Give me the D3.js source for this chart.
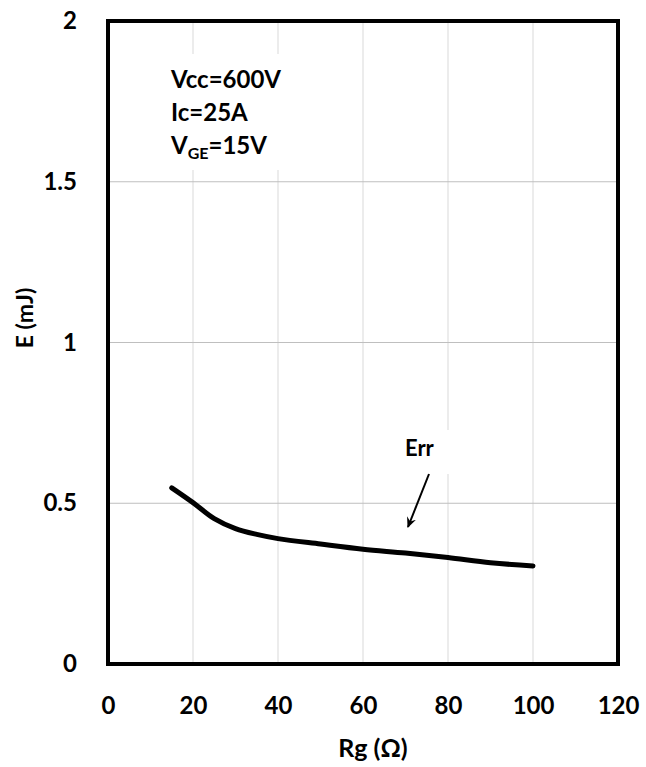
<!DOCTYPE html>
<html>
<head>
<meta charset="utf-8">
<script src="https://cdn.jsdelivr.net/npm/d3@7"></script>
<style>
  body { margin: 0; background: #fff; }
  text { font-family: Lato, "Open Sans", sans-serif; font-weight: bold; fill: #000; }
</style>
</head>
<body>
<svg id="chart" width="646" height="767" viewBox="0 0 646 767"></svg>
<script>
// Err curve
const rg = [15, 20, 25, 30, 35, 40, 50, 60, 70, 80, 90, 100];
const err = [0.548, 0.502, 0.452, 0.421, 0.403, 0.390, 0.373, 0.357, 0.345, 0.331, 0.315, 0.305];
const xTicks = [0, 20, 40, 60, 80, 100, 120];
const yTicks = [0, 0.5, 1, 1.5, 2];
const notes = ["Vcc=600V", "Ic=25A"];

const svg = d3.select("#chart");
const width = 646, height = 767;
const margin = {left: 108, right: 28, top: 21, bottom: 103};

const x = d3.scaleLinear().domain([0, 120]).range([margin.left, width - margin.right]);
const y = d3.scaleLinear().domain([0, 2]).range([height - margin.bottom, margin.top]);

// grid
const grid = svg.append("g");
grid.selectAll(".gx")
    .data(xTicks.slice(1, -1))
    .enter()
    .append("line")
    .attr("x1", d => x(d)).attr("x2", d => x(d))
    .attr("y1", y(0)).attr("y2", y(2))
    .style("stroke", "#d9d9d9")
    .style("stroke-width", 1);
grid.selectAll(".gy")
    .data(yTicks.slice(1, -1))
    .enter()
    .append("line")
    .attr("x1", x(0)).attr("x2", x(120))
    .attr("y1", d => y(d)).attr("y2", d => y(d))
    .style("stroke", "#bfbfbf")
    .style("stroke-width", 1);

// text boxes cover the grid
svg.append("rect")
    .attr("x", 166).attr("y", 54).attr("width", 122).attr("height", 116)
    .attr("fill", "#fff");
svg.append("rect")
    .attr("x", 398).attr("y", 430).attr("width", 56).attr("height", 44)
    .attr("fill", "#fff");

// axes
const xAxis = svg.append("g")
    .attr("transform", `translate(0,${y(0)})`)
    .call(d3.axisBottom(x).tickValues(xTicks).tickSize(0).tickPadding(33));
xAxis.select(".domain").remove();
xAxis.selectAll("text").style("font-size", "24px").attr("font-family", null);

const yAxis = svg.append("g")
    .attr("transform", `translate(${x(0)},0)`)
    .call(d3.axisLeft(y).tickValues(yTicks).tickFormat(d3.format("")).tickSize(0).tickPadding(31));
yAxis.select(".domain").remove();
yAxis.selectAll("text").style("font-size", "24px").attr("font-family", null);

// curve
const line = d3.line()
    .x((d, i) => x(rg[i]))
    .y(d => y(d))
    .curve(d3.curveCatmullRom);
svg.append("path")
    .datum(err)
    .attr("d", line)
    .attr("fill", "none")
    .style("stroke", "#000")
    .style("stroke-width", 5)
    .style("stroke-linecap", "round");

// frame
svg.append("rect")
    .attr("x", x(0)).attr("y", y(2))
    .attr("width", x(120) - x(0)).attr("height", y(0) - y(2))
    .attr("fill", "none")
    .style("stroke", "#000")
    .style("stroke-width", 4);

// notes
notes.forEach((t, i) => {
    svg.append("text")
        .attr("x", 171).attr("y", 88 + i * 33)
        .style("font-size", "24px")
        .text(t);
});
const vge = svg.append("text")
    .attr("x", 171).attr("y", 154)
    .style("font-size", "24px");
vge.append("tspan").text("V");
vge.append("tspan").attr("dy", 5).style("font-size", "16px").text("GE");
vge.append("tspan").attr("dy", -5).text("=15V");

// Err label and arrow
svg.append("defs").append("marker")
    .attr("id", "head")
    .attr("viewBox", "0 0 10 10")
    .attr("refX", 8).attr("refY", 5)
    .attr("markerWidth", 6).attr("markerHeight", 6)
    .attr("orient", "auto")
    .append("path")
    .attr("d", "M0,1 L9,5 L0,9 L3,5 Z")
    .attr("fill", "#000");
svg.append("text")
    .attr("x", 405).attr("y", 456)
    .style("font-size", "22px")
    .text("Err");
svg.append("line")
    .attr("x1", 429).attr("y1", 474)
    .attr("x2", 408).attr("y2", 527)
    .style("stroke", "#000")
    .style("stroke-width", 2)
    .attr("marker-end", "url(#head)");

// axis titles
svg.append("text")
    .attr("x", 373).attr("y", 757)
    .attr("text-anchor", "middle")
    .style("font-size", "25px")
    .text("Rg (Ω)");
svg.append("text")
    .attr("transform", "translate(33,318) rotate(-90)")
    .attr("text-anchor", "middle")
    .style("font-size", "23px")
    .text("E  (mJ)");
</script>
</body>
</html>
